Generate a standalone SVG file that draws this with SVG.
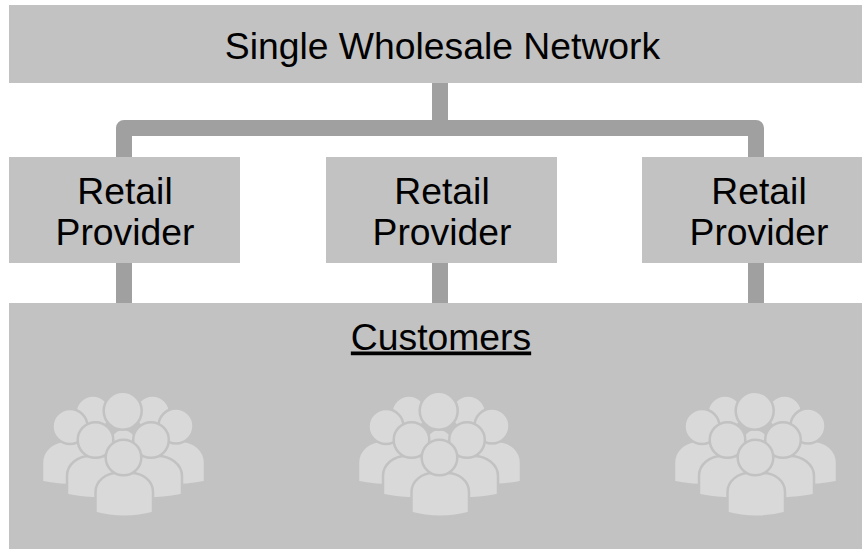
<svg xmlns="http://www.w3.org/2000/svg" width="862" height="549" viewBox="0 0 862 549">
<style>
.box{fill:#c2c2c2}
.conn{fill:none;stroke:#a0a0a0;stroke-width:16;stroke-linejoin:round}
text{font-family:"Liberation Sans",Arial,sans-serif;font-size:37.3px;fill:#000;text-anchor:middle}
.p{fill:#d9d9d9;stroke:#c2c2c2;stroke-width:2.5}
</style>
<defs>
<g id="people">
<circle class="p" cx="93" cy="413" r="17.500"/>
<circle class="p" cx="152.500" cy="413" r="17.500"/>
<path class="p" d="M107 470V450C107 437 115 429 123 429C131 429 140 437 140 450V470Z"/>
<circle class="p" cx="122.700" cy="410.700" r="19"/>
<path class="p" d="M42 482V463C42 450 53 441 66 441H85C98 441 106 450 106 463V485C85 486 60 486 42 482Z"/>
<path class="p" d="M205 482V463C205 450 194 441 181 441H162C149 441 141 450 141 463V485C162 486 187 486 205 482Z"/>
<circle class="p" cx="70" cy="426.500" r="17.500"/>
<circle class="p" cx="176" cy="426" r="17.500"/>
<path class="p" d="M67 495V476C67 464 78 456 90 456H107C120 456 128 465 128 478V499.500C108 499.500 85 499 67 495Z"/>
<path class="p" d="M182 495V476C182 464 170 456 158 456H141C128 456 120 465 120 478V499.500C140 499.500 163 499 182 495Z"/>
<circle class="p" cx="95.500" cy="440" r="17.800"/>
<circle class="p" cx="151" cy="440" r="17.800"/>
<path class="p" d="M95.500 513V492C95.500 481 106 473 117 473H131C143 473 153 481 153 492V513C135 518 113 518 95.500 513Z"/>
<circle class="p" cx="123.500" cy="457.500" r="17.800"/>
</g>
</defs>
<g id="connectors">
<path class="conn" d="M440 82V128M124 157V128H756V157"/>
<path class="conn" d="M124 263V303M440 263V303M756 263V303"/>
</g>
<g id="wholesale"><rect class="box" x="9" y="5" width="853" height="78"/><text x="442.500" y="58.500">Single Wholesale Network</text></g>
<g id="retail1"><rect class="box" x="9" y="157" width="231" height="106"/><text x="125" y="203.500">Retail</text><text x="125" y="244.500">Provider</text></g>
<g id="retail2"><rect class="box" x="326" y="157" width="231" height="106"/><text x="442" y="203.500">Retail</text><text x="442" y="244.500">Provider</text></g>
<g id="retail3"><rect class="box" x="642" y="157" width="220" height="106"/><text x="759" y="203.500">Retail</text><text x="759" y="244.500">Provider</text></g>
<g id="customers"><rect class="box" x="9" y="303" width="853" height="246"/><text x="441" y="349.500" text-decoration="underline">Customers</text>
<use href="#people"/><use href="#people" x="316"/><use href="#people" x="632"/></g>
</svg>
